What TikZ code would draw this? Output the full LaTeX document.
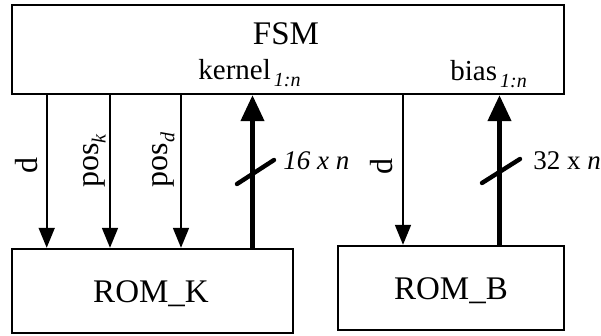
\documentclass[tikz,border=0pt]{standalone}
\usepackage{fontspec}
\setmainfont{Liberation Serif}
\usetikzlibrary{arrows.meta,positioning}
\tikzset{
  blk/.style={rectangle,draw,line width=1.2pt,inner sep=0pt},
  sig/.style={-{Triangle[length=10pt,width=8pt]},line width=0.9pt},
  bus/.style={-{Triangle[length=13pt,width=11.5pt]},line width=2.2pt},
  slsh/.style={line width=2.2pt,line cap=round},
  big/.style={font=\fontsize{16.5}{19}\selectfont,inner sep=0pt,anchor=base},
  lbl/.style={font=\fontsize{13.5}{16}\selectfont,inner sep=0pt,anchor=base west},
  vlbl/.style={font=\fontsize{16}{19}\selectfont,inner sep=0pt,rotate=90},
}
\newcommand{\subx}[1]{\raisebox{-3.5pt}{\fontsize{10}{12}\selectfont\itshape #1}}

\begin{document}
\begin{tikzpicture}[x=0.5pt,y=-0.5pt]
  \useasboundingbox (0,0) rectangle (601,336);
  % blocks
  \node[blk,minimum width=276pt,minimum height=44.5pt] (fsm) at (288,49.5) {};
  \node[blk,minimum width=140.5pt,minimum height=42pt] (romk) at (152.5,291) {};
  \node[blk,minimum width=113pt,minimum height=42pt] (romb) at (451,288) {};
  \node[big] (fsmtxt) at (286,45) {FSM};
  \node[big] (romktxt) at (151,303) {ROM\_K};
  \node[big] (rombtxt) at (451,300) {ROM\_B};
  \node[lbl,font=\fontsize{14.5}{17}\selectfont] (kern) at (198,80) {kernel\kern1.5pt\subx{1:n}};
  \node[lbl,font=\fontsize{14.5}{17}\selectfont] (bias) at (450,81) {bias\kern1.5pt\subx{1:n}};
  % columns
  \coordinate (xd) at (46.7,0);
  \coordinate (xpk) at (110,0);
  \coordinate (xpd) at (181,0);
  \coordinate (xk) at (252.5,0);
  \coordinate (xdb) at (403,0);
  \coordinate (xb) at (499.5,0);
  % signals
  \draw[sig] (xd |- fsm.south) -- (xd |- romk.north);
  \draw[sig] (xpk |- fsm.south) -- (xpk |- romk.north);
  \draw[sig] (xpd |- fsm.south) -- (xpd |- romk.north);
  \draw[bus] (xk |- romk.north) -- (xk |- fsm.south);
  \draw[sig] (xdb |- fsm.south) -- (xdb |- romb.north);
  \draw[bus] (xb |- romb.north) -- (xb |- fsm.south);
  % bus widths
  \draw[slsh] (237,184) -- (274,160);
  \draw[slsh] (482,183) -- (520,159);
  \node[lbl] (wk) at (283,170) {\itshape 16 x n};
  \node[lbl] (wb) at (533,170) {32 x \textit{n}};
  % signal names
  \node[vlbl] (ld) at (27,166) {d};
  \node[vlbl] (lpk) at (94.5,161) {pos\subx{k}};
  \node[vlbl] (lpd) at (163.5,160) {pos\subx{d}};
  \node[vlbl] (ldb) at (382,167) {d};
\end{tikzpicture}
\end{document}
